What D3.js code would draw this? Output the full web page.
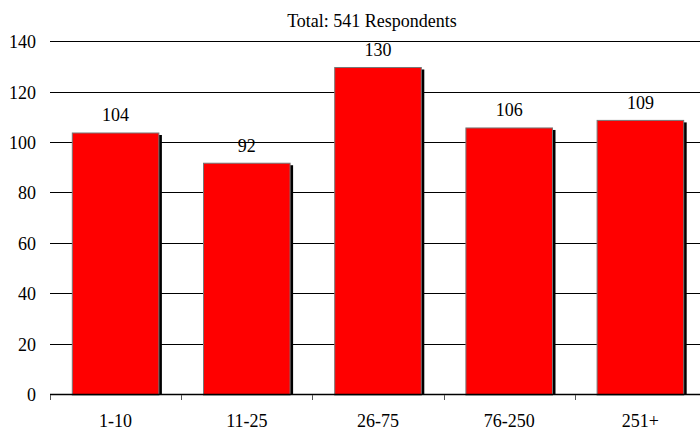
<!DOCTYPE html>
<html>
<head>
<meta charset="utf-8">
<script src="https://cdn.jsdelivr.net/npm/d3@7"></script>
<style>
  html, body { margin: 0; padding: 0; background: #fff; }
  svg { display: block; }
  svg text { font-family: "Liberation Serif", "Times New Roman", "DejaVu Serif", serif; fill: #000; }
</style>
</head>
<body>
<svg id="chart" width="700" height="433"></svg>
<script>
// Respondents by company size
const categories = ["1-10", "11-25", "26-75", "76-250", "251+"];
const counts = [104, 92, 130, 106, 109];
const yTicks = [0, 20, 40, 60, 80, 100, 120, 140];
const title = "Total: 541 Respondents";

const svg = d3.select("#chart");
const plotLeft = 50, plotRight = 706, plotTop = 42.3, plotBottom = 395;
const fontSize = 18;

const x = d3.scaleBand().domain(categories).range([plotLeft, plotRight]).paddingInner(0.34).paddingOuter(0.17);
const y = d3.scaleLinear().domain([0, 140]).range([plotBottom, plotTop]);

// horizontal gridlines
svg.append("g").selectAll("line").data(yTicks.filter(t => t > 0)).join("line")
  .attr("x1", plotLeft).attr("x2", 700)
  .attr("y1", d => Math.round(y(d)) - 0.5).attr("y2", d => Math.round(y(d)) - 0.5)
  .attr("stroke", "#000").attr("stroke-width", 1);

// y tick labels
svg.append("g").selectAll("text").data(yTicks).join("text")
  .attr("x", 36).attr("y", d => y(d) + 6)
  .attr("text-anchor", "end").attr("font-size", fontSize)
  .text(d => d);

// bars with drop shadow
const bars = svg.append("g").selectAll("g").data(categories).join("g");
bars.append("rect")
  .attr("x", d => x(d) + 3).attr("y", (d, i) => y(counts[i]) + 2)
  .attr("width", x.bandwidth()).attr("height", (d, i) => plotBottom - y(counts[i]) - 2)
  .attr("fill", "#000");
bars.append("rect")
  .attr("x", d => x(d)).attr("y", (d, i) => y(counts[i]))
  .attr("width", x.bandwidth()).attr("height", (d, i) => plotBottom - y(counts[i]))
  .attr("fill", "#ff0000").attr("stroke", "#777").attr("stroke-width", 1);

// value labels
svg.append("g").selectAll("text").data(categories).join("text")
  .attr("x", d => x(d) + x.bandwidth() / 2)
  .attr("y", (d, i) => y(counts[i]) - 11.5)
  .attr("text-anchor", "middle").attr("font-size", fontSize)
  .text((d, i) => counts[i]);

// x axis baseline, category boundary ticks and labels
svg.append("line").attr("x1", plotLeft).attr("x2", 700)
  .attr("y1", y(0) - 0.5).attr("y2", y(0) - 0.5)
  .attr("stroke", "#000").attr("stroke-width", 1.3);
const step = x.step();
const bounds = d3.range(categories.length).map(i => plotLeft + i * step);
svg.append("g").selectAll("line").data(bounds).join("line")
  .attr("x1", d => Math.round(d) + 0.5).attr("x2", d => Math.round(d) + 0.5)
  .attr("y1", y(0)).attr("y2", y(0) + 5)
  .attr("stroke", "#555").attr("stroke-width", 1);
svg.append("g").selectAll("text").data(categories).join("text")
  .attr("x", d => x(d) + x.bandwidth() / 2).attr("y", 427)
  .attr("text-anchor", "middle").attr("font-size", fontSize)
  .text(d => d);

// title
svg.append("text").attr("x", 372).attr("y", 27)
  .attr("text-anchor", "middle").attr("font-size", fontSize)
  .text(title);
</script>
</body>
</html>
